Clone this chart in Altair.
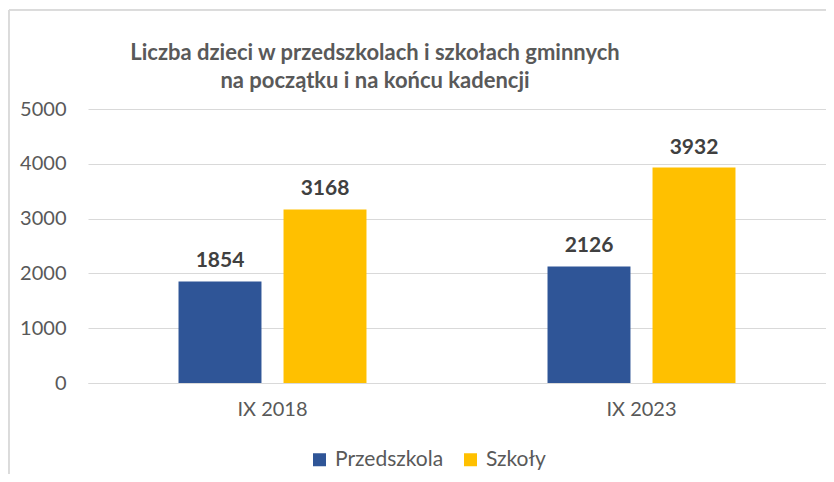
import altair as alt
import pandas as pd

categories = ["IX 2018", "IX 2018", "IX 2023", "IX 2023"]
series = ["Przedszkola", "Szkoły", "Przedszkola", "Szkoły"]
values = [1854, 3168, 2126, 3932]
series_order = ["Przedszkola", "Szkoły"]
colors = ["#2F5597", "#FFC000"]

df = pd.DataFrame({"okres": categories, "typ": series, "liczba": values})

FONT = "Lato"

base = alt.Chart(df).encode(
    x=alt.X("okres:N", title=None, sort=["IX 2018", "IX 2023"],
            scale=alt.Scale(paddingInner=0, paddingOuter=0),
            axis=alt.Axis(labelAngle=0, labelFontSize=20, labelColor="#595959",
                          labelFont=FONT, ticks=False, domain=True,
                          domainColor="#D9D9D9", labelPadding=16)),
    xOffset=alt.XOffset("typ:N", sort=series_order,
                        scale=alt.Scale(paddingInner=0.21, paddingOuter=0.862)),
    y=alt.Y("liczba:Q", title=None,
            scale=alt.Scale(domain=[0, 5000]),
            axis=alt.Axis(values=[0, 1000, 2000, 3000, 4000, 5000], format="d",
                          labelFontSize=20, labelColor="#595959", labelFont=FONT,
                          ticks=False, domain=False, gridColor="#D9D9D9",
                          labelPadding=22)),
)

bars = base.mark_bar().encode(
    color=alt.Color("typ:N", sort=series_order,
                    scale=alt.Scale(domain=series_order, range=colors),
                    legend=alt.Legend(title=None, orient="none", direction="horizontal",
                                      legendX=221, legendY=340, symbolType="square",
                                      symbolSize=169, symbolStrokeWidth=0,
                                      labelFontSize=21, labelColor="#595959",
                                      labelFont=FONT, columnPadding=16, symbolOffset=0,
                                      labelOffset=5))
)

labels = base.mark_text(dy=-14, baseline="alphabetic", fontSize=21, fontWeight="bold",
                        color="#404040", font=FONT).encode(text="liczba:Q")

border_left = alt.Chart(df).mark_rule(color="#D9D9D9", strokeWidth=1).encode(
    x=alt.value(-79), y=alt.value(-99), y2=alt.value(370)
)
border_top = alt.Chart(df).mark_rule(color="#D9D9D9", strokeWidth=1).encode(
    x=alt.value(-79), x2=alt.value(738), y=alt.value(-99)
)

chart = alt.layer(border_left, border_top, bars, labels).properties(
    width=738, height=274,
    autosize=alt.AutoSizeParams(type="none"),
    padding={"left": 80, "top": 101, "right": 0, "bottom": 91},
    title=alt.TitleParams(
        text=["Liczba dzieci w przedszkolach i szkołach gminnych",
              "na początku i na końcu kadencji"],
        anchor="middle", dx=-82, offset=-83, fontSize=22, fontWeight="bold",
        color="#595959", font=FONT, lineHeight=28),
).configure_view(stroke=None)

chart.save("out.html", embed_options={"renderer": "svg", "actions": False})
